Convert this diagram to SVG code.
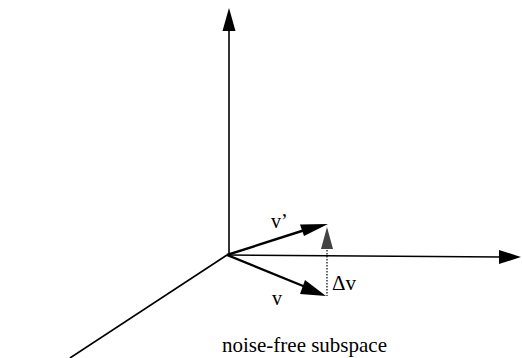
<svg xmlns="http://www.w3.org/2000/svg" width="522" height="358" viewBox="0 0 522 358">
<style>
.ax{stroke:#000;stroke-width:1.6;fill:none}
.vec{stroke:#000;stroke-width:2.4;fill:none}
.head{fill:#000;stroke:none}
.lbl{font-family:"Liberation Serif","Times New Roman",serif;fill:#000}
</style>
<rect width="522" height="358" fill="#fff"/>
<g id="connectors">
<line class="ax" x1="229" y1="255" x2="229" y2="28"/>
<polygon class="head" points="229,8 222.5,31 235.5,31"/>
<line class="ax" x1="227" y1="255" x2="502" y2="257"/>
<polygon class="head" points="521,257 499,250 499,264"/>
<line class="ax" x1="227" y1="255" x2="70" y2="358"/>
<line class="vec" x1="227" y1="255" x2="308" y2="229"/>
<polygon class="head" points="328,224 300,224.5 304,236"/>
<line class="vec" x1="227" y1="255" x2="308" y2="288"/>
<polygon class="head" points="326,296 305,280 300,294"/>
<line x1="327" y1="250" x2="327" y2="296" stroke="#000" stroke-width="1.2" stroke-dasharray="1.5,1.5"/>
<polygon points="327,227 321,249 333,249" fill="#444"/>
</g>
<g id="label-vprime"><text class="lbl" x="271" y="228" font-size="20">v’</text></g>
<g id="label-v"><text class="lbl" x="272" y="305" font-size="20">v</text></g>
<g id="label-dv"><text class="lbl" x="332" y="290" font-size="21">Δv</text></g>
<g id="label-subspace"><text class="lbl" x="222" y="352" font-size="21">noise-free subspace</text></g>
</svg>
